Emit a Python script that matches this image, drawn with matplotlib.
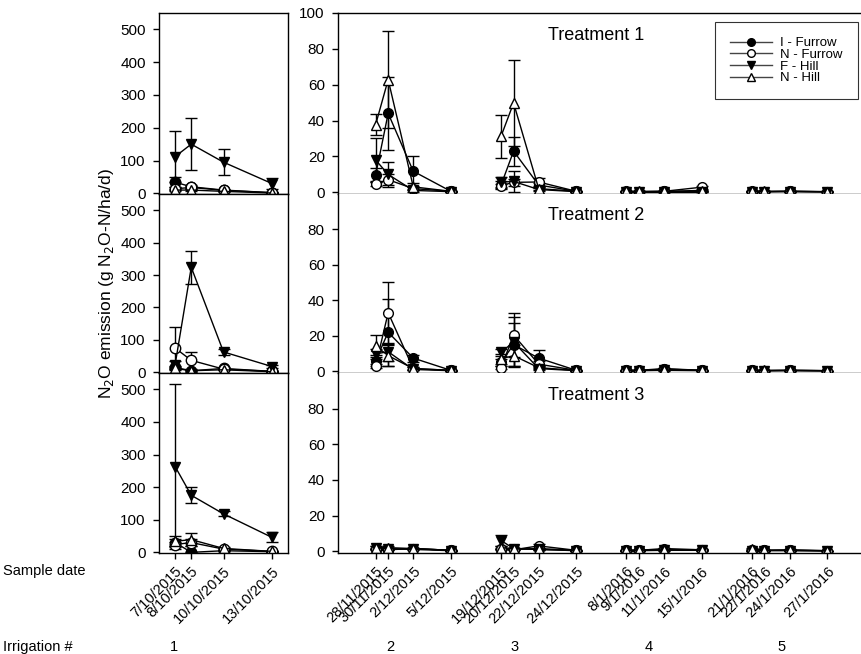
import matplotlib
matplotlib.use("Agg")
import matplotlib.pyplot as plt
from matplotlib.lines import Line2D

plt.rcParams['font.family'] = ['Liberation Sans', 'DejaVu Sans']

# sample positions (days after start of each irrigation event)
left_pos = [0, 1, 3, 6]
right_pos = [0, 1, 3, 6, 10, 11, 13, 16, 20, 21, 23, 26, 30, 31, 33, 36]

left_dates = ["7/10/2015", "8/10/2015", "10/10/2015", "13/10/2015"]
right_dates = ["28/11/2015", "30/11/2015", "2/12/2015", "5/12/2015",
               "19/12/2015", "20/12/2015", "22/12/2015", "24/12/2015",
               "8/1/2016", "9/1/2016", "11/1/2016", "15/1/2016",
               "21/1/2016", "22/1/2016", "24/1/2016", "27/1/2016"]
irrigations = ["1", "2", "3", "4", "5"]

series = ["I - Furrow", "N - Furrow", "F - Hill", "N - Hill"]

# Treatment 1
t1_left = {
    "I - Furrow": [34, 20, 10, 2],
    "N - Furrow": [14, 18, 9, 2],
    "F - Hill": [112, 150, 95, 30],
    "N - Hill": [10, 10, 6, 1],
}
t1_left_err = {
    "I - Furrow": [15, 5, 3, 1],
    "N - Furrow": [5, 4, 2, 1],
    "F - Hill": [78, 80, 40, 18],
    "N - Hill": [4, 3, 2, 1],
}
t1_right = {
    "I - Furrow": [9.5, 44, 11.7, 0.5, 4, 22.9, 4, 0.5, 0.5, 0.3, 0.5, 1, 0.5, 0.3, 0.5, 0.2],
    "N - Furrow": [4.7, 7, 2, 0.5, 3.7, 5.5, 5.7, 0.5, 0.3, 0.3, 0.5, 2.8, 0.3, 0.3, 0.5, 0.3],
    "F - Hill": [18, 9.9, 1, 0.3, 5.6, 6, 1.5, 0.3, 0.3, 0.3, 0.3, 0.3, 0.3, 0.3, 0.3, 0.2],
    "N - Hill": [37.7, 62.8, 3, 0.5, 31.2, 49.8, 2, 0.5, 0.5, 0.5, 0.5, 0.5, 0.5, 0.5, 0.5, 0.3],
}
t1_right_err = {
    "I - Furrow": [4, 20.5, 8.5, 0.2, 2, 8, 1, 0.2, 0.2, 0.1, 0.2, 0.5, 0.2, 0.1, 0.2, 0.1],
    "N - Furrow": [1.5, 3, 1, 0.2, 1, 2, 2.5, 0.2, 0.1, 0.1, 0.2, 0.8, 0.1, 0.1, 0.2, 0.1],
    "F - Hill": [12.5, 7, 1, 0.1, 3, 6, 1, 0.1, 0.1, 0.1, 0.1, 0.1, 0.1, 0.1, 0.1, 0.1],
    "N - Hill": [6, 27, 2, 0.2, 12, 24, 1, 0.2, 0.2, 0.2, 0.2, 0.2, 0.2, 0.2, 0.2, 0.1],
}

# Treatment 2
t2_left = {
    "I - Furrow": [15, 5, 12, 3],
    "N - Furrow": [75, 37, 10, 3],
    "F - Hill": [24, 324, 63, 18],
    "N - Hill": [12, 5, 8, 2],
}
t2_left_err = {
    "I - Furrow": [5, 3, 3, 1],
    "N - Furrow": [65, 26, 3, 1],
    "F - Hill": [10, 50, 10, 5],
    "N - Hill": [4, 2, 2, 1],
}
t2_right = {
    "I - Furrow": [6, 22, 7.4, 0.5, 5, 15, 7.4, 0.5, 0.5, 0.5, 1.5, 0.5, 0.5, 0.3, 0.5, 0.3],
    "N - Furrow": [3, 33, 1.5, 0.5, 2, 20.4, 4, 0.5, 0.5, 0.3, 1.2, 0.5, 0.5, 0.3, 0.5, 0.3],
    "F - Hill": [9.8, 11, 1, 0.3, 10.7, 16.5, 1.5, 0.3, 0.3, 0.3, 0.5, 0.3, 0.3, 0.3, 0.3, 0.2],
    "N - Hill": [14.3, 8.8, 1.5, 0.5, 7, 8.8, 2, 0.5, 0.5, 0.5, 0.8, 0.5, 0.5, 0.5, 0.5, 0.3],
}
t2_right_err = {
    "I - Furrow": [3, 19, 2, 0.2, 2, 12, 4.4, 0.2, 0.2, 0.2, 0.5, 0.2, 0.2, 0.1, 0.2, 0.1],
    "N - Furrow": [1, 17.5, 1, 0.2, 1, 12.6, 2, 0.2, 0.2, 0.1, 0.5, 0.2, 0.2, 0.1, 0.2, 0.1],
    "F - Hill": [3, 5, 0.5, 0.1, 2, 14, 1, 0.1, 0.1, 0.1, 0.2, 0.1, 0.1, 0.1, 0.1, 0.1],
    "N - Hill": [6, 6, 1, 0.2, 3, 6, 1, 0.2, 0.2, 0.2, 0.3, 0.2, 0.2, 0.2, 0.2, 0.1],
}

# Treatment 3
t3_left = {
    "I - Furrow": [30, 0, 5, 2],
    "N - Furrow": [24, 30, 10, 3],
    "F - Hill": [263, 175, 118, 46],
    "N - Hill": [34, 39, 12, 3],
}
t3_left_err = {
    "I - Furrow": [10, 1, 2, 1],
    "N - Furrow": [8, 10, 3, 1],
    "F - Hill": [252, 25, 8, 15],
    "N - Hill": [15, 21, 3, 1],
}
t3_right = {
    "I - Furrow": [1.5, 1, 1.5, 0.5, 1.5, 1, 1.5, 0.5, 0.5, 0.5, 0.8, 0.5, 0.5, 0.5, 0.5, 0.2],
    "N - Furrow": [1, 0.8, 1.5, 0.5, 1, 0.8, 3, 0.5, 0.5, 0.5, 1.5, 0.8, 0.5, 0.5, 0.5, 0.3],
    "F - Hill": [2, 1.5, 1, 0.3, 6, 1.5, 1, 0.3, 0.3, 0.3, 0.5, 0.5, 0.3, 0.3, 0.3, 0.2],
    "N - Hill": [2, 2, 1.5, 0.5, 2, 1.5, 1, 0.5, 0.5, 0.5, 0.8, 0.8, 1.5, 0.5, 0.8, 0.3],
}
t3_right_err = {
    "I - Furrow": [0.5, 0.5, 0.5, 0.2, 0.5, 0.5, 0.5, 0.2, 0.2, 0.2, 0.3, 0.2, 0.2, 0.2, 0.2, 0.1],
    "N - Furrow": [0.5, 0.3, 0.5, 0.2, 0.5, 0.3, 1, 0.2, 0.2, 0.2, 0.5, 0.3, 0.2, 0.2, 0.2, 0.1],
    "F - Hill": [0.8, 0.5, 0.3, 0.1, 3, 0.5, 0.3, 0.1, 0.1, 0.1, 0.2, 0.2, 0.1, 0.1, 0.1, 0.1],
    "N - Hill": [0.8, 0.8, 0.5, 0.2, 0.8, 0.5, 0.3, 0.2, 0.2, 0.2, 0.3, 0.3, 0.5, 0.2, 0.3, 0.1],
}

treatments = ["Treatment 1", "Treatment 2", "Treatment 3"]
left_data = [(t1_left, t1_left_err), (t2_left, t2_left_err), (t3_left, t3_left_err)]
right_data = [(t1_right, t1_right_err), (t2_right, t2_right_err), (t3_right, t3_right_err)]

styles = {
    "I - Furrow": dict(marker="o", mfc="black"),
    "N - Furrow": dict(marker="o", mfc="white"),
    "F - Hill": dict(marker="v", mfc="black"),
    "N - Hill": dict(marker="^", mfc="white"),
}

fig = plt.figure(figsize=(8.61, 6.54), dpi=100)

W, H = 861.0, 654.0
rows_px = [(13, 194), (194, 373), (373, 553)]
lx0, lx1 = 159, 288
rx0, rx1 = 338, 861
fs = 10.5


def draw(ax, xs, vals, errs, ms):
    # each irrigation event (4 samples) is its own line segment
    for s in series:
        for g in range(0, len(xs), 4):
            ax.errorbar(xs[g:g + 4], vals[s][g:g + 4], yerr=errs[s][g:g + 4],
                        color="black", lw=1, elinewidth=1, capsize=4,
                        capthick=1, marker=styles[s]["marker"],
                        mfc=styles[s]["mfc"], mec="black", mew=1, ms=ms)


for i, (top, bot) in enumerate(rows_px):
    y0 = 1 - bot / H
    h = (bot - top) / H
    axl = fig.add_axes([lx0 / W, y0, (lx1 - lx0) / W, h])
    axr = fig.add_axes([rx0 / W, y0, (rx1 - rx0) / W, h])

    draw(axl, left_pos, left_data[i][0], left_data[i][1], 7.5)
    draw(axr, right_pos, right_data[i][0], right_data[i][1], 7)

    axl.set_xlim(-1, 7)
    axl.set_ylim(-2, 550)
    axl.set_yticks([0, 100, 200, 300, 400, 500])
    axl.set_xticks(left_pos)

    axr.set_xlim(-3, 38.7)
    axr.set_ylim(-1, 100)
    if i == 0:
        axr.set_yticks([0, 20, 40, 60, 80, 100])
    else:
        axr.set_yticks([0, 20, 40, 60, 80])
    axr.set_xticks(right_pos)
    axr.spines["right"].set_visible(False)
    if i > 0:
        axr.spines["top"].set_visible(False)

    for ax in (axl, axr):
        ax.tick_params(direction="out", length=4.5, width=1, top=False,
                       right=False)
        ax.tick_params(axis="y", labelsize=11, pad=5)
        for sp in ax.spines.values():
            sp.set_linewidth(1)

    if i == 2:
        axl.set_xticklabels(left_dates, rotation=45, ha="right",
                            rotation_mode="anchor", fontsize=fs)
        axr.set_xticklabels(right_dates, rotation=45, ha="right",
                            rotation_mode="anchor", fontsize=fs)
    else:
        axl.set_xticklabels([])
        axr.set_xticklabels([])

    axr.text(596 / W, 1 - (35 + 180 * i) / H, treatments[i],
             transform=fig.transFigure, ha="center", va="center", fontsize=13)

    if i == 0:
        handles = [Line2D([], [], color="#444444", lw=1,
                          marker=styles[s]["marker"], mfc=styles[s]["mfc"],
                          mec="black", ms=5.5) for s in series]
        leg = axr.legend(handles, series, loc="upper right",
                         bbox_to_anchor=(858 / W, 1 - 22 / H),
                         bbox_transform=fig.transFigure, frameon=True,
                         fancybox=False, edgecolor="black", fontsize=9.5,
                         handlelength=3.2, labelspacing=-0.05, borderpad=1.15,
                         borderaxespad=0, handletextpad=0.6)
        leg.get_frame().set_linewidth(0.8)

fig.text(107 / W, 1 - 283 / H, "N$_2$O emission (g N$_2$O-N/ha/d)",
         rotation=90, ha="center", va="center", fontsize=12.5)

fig.text(3 / W, 1 - 571 / H, "Sample date", ha="left", va="center", fontsize=fs)
fig.text(3 / W, 1 - 647 / H, "Irrigation #", ha="left", va="center", fontsize=fs)
irr_x = [174, 390, 515, 649, 782]
for lab, xp in zip(irrigations, irr_x):
    fig.text(xp / W, 1 - 647 / H, lab, ha="center", va="center", fontsize=fs)

fig.savefig("out.png", dpi=100)
